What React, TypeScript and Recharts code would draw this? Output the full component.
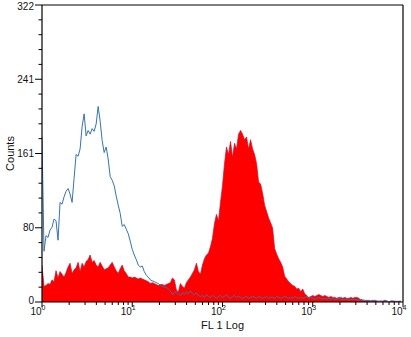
import React from "react";
import {
  ComposedChart,
  Area,
  Line,
  XAxis,
  YAxis,
  ReferenceLine,
} from "recharts";

// histogram counts, 45 channels per decade from 10^0 to 10^4
const STAINED_COUNTS = [
  40, 17, 18, 20, 19, 24, 22, 34, 26, 33,
  30, 27, 32, 38, 42, 31, 35, 37, 43, 33,
  42, 38, 44, 46, 51, 43, 45, 40, 38, 43,
  39, 35, 36, 37, 40, 43, 38, 34, 31, 36,
  40, 34, 31, 27, 27, 26, 27, 26, 25, 26,
  25, 24, 23, 22, 20, 21, 20, 19, 18, 19,
  19, 18, 19, 20, 21, 26, 24, 13, 11, 20,
  17, 15, 21, 24, 27, 31, 35, 42, 33, 30,
  40, 47, 51, 53, 60, 69, 85, 95, 88, 108,
  126, 150, 168, 160, 174, 157, 172, 166, 182, 186,
  182, 176, 179, 166, 176, 166, 160, 150, 130, 128,
  118, 105, 98, 91, 86, 80, 58, 52, 47, 43,
  38, 28, 25, 22, 20, 18, 17, 14, 15, 11,
  14, 9, 7, 5, 6, 7, 6, 7, 8, 7,
  6, 7, 6, 5, 6, 5, 5, 4, 5, 5,
  4, 5, 4, 4, 5, 4, 5, 5, 4, 2,
  2, 1, 2, 1, 1, 2, 1, 1, 0, 1,
  1, 2, 1, 0, 1, 1, 1, 0, 1, 1,
];

const CONTROL_COUNTS = [
  179, 55, 72, 70, 78, 81, 90, 88, 67, 108,
  106, 114, 120, 123, 117, 108, 134, 160, 158, 166,
  190, 204, 180, 186, 182, 188, 185, 193, 212, 196,
  175, 162, 168, 155, 136, 132, 126, 115, 105, 96,
  82, 84, 79, 74, 66, 57, 51, 46, 40, 38,
  39, 33, 29, 27, 24, 23, 22, 21, 20, 18,
  17, 16, 16, 14, 12, 8, 10, 11, 9, 7,
  10, 8, 11, 9, 12, 9, 8, 10, 7, 6,
  7, 5, 8, 6, 5, 7, 6, 4, 6, 7,
  5, 6, 8, 5, 4, 6, 7, 5, 6, 5,
  4, 5, 6, 4, 5, 6, 5, 4, 6, 5,
  4, 5, 6, 4, 5, 5, 4, 6, 5, 4,
  5, 6, 5, 4, 5, 4, 6, 5, 4, 5,
  4, 5, 6, 4, 5, 4, 3, 4, 5, 4,
  3, 4, 3, 4, 3, 4, 3, 3, 4, 3,
  2, 3, 3, 2, 3, 2, 3, 2, 2, 3,
  2, 2, 1, 2, 1, 1, 2, 1, 1, 1,
  0, 1, 1, 0, 1, 1, 0, 1, 0, 0,
];

const CHANNELS_PER_DECADE = 45;
const Y_MAX = 322;
const Y_MAJOR_STEPS = 4;
const Y_MINOR_PER_MAJOR = 5;
const DECADES = [0, 1, 2, 3];

const FONT = "'Liberation Sans', Arial, sans-serif";

const data = STAINED_COUNTS.map((v, i) => ({
  x: Math.pow(10, i / CHANNELS_PER_DECADE),
  stained: v,
  control: CONTROL_COUNTS[i],
}));

// log ticks 1..9 per decade, plus the last decade
const xTicks: number[] = [];
DECADES.forEach((d) => {
  for (let k = 1; k <= 9; k++) xTicks.push(k * Math.pow(10, d));
});
xTicks.push(Math.pow(10, DECADES.length));

const yTicks: number[] = [];
const yStep = Y_MAX / (Y_MAJOR_STEPS * Y_MINOR_PER_MAJOR);
for (let k = 0; k <= Y_MAJOR_STEPS * Y_MINOR_PER_MAJOR; k++) yTicks.push(k * yStep);

const XTick = ({ x, y, payload }: any) => {
  const v = payload.value;
  const exp = Math.log10(v);
  const major = Math.abs(exp - Math.round(exp)) < 1e-6;
  return (
    <g>
      <line x1={x} y1={y} x2={x} y2={y + (major ? 5 : 3)} stroke="#000" strokeWidth={1} />
      {major && (
        <>
          <text x={x - 0.5} y={y + 13.2} textAnchor="end" fontSize={10} fontFamily={FONT} fill="#111">
            10
          </text>
          <text x={x - 0.5} y={y + 8} textAnchor="start" fontSize={7} fontFamily={FONT} fill="#111">
            {Math.round(exp)}
          </text>
        </>
      )}
    </g>
  );
};

const YTick = ({ x, y, index }: any) => {
  const major = index % Y_MINOR_PER_MAJOR === 0;
  const last = index === yTicks.length - 1;
  // bottom label nudged up to clear the 10^0 label, top one down to stay inside
  const dy = index === 0 ? "0.2em" : last ? "0.45em" : "0.35em";
  return (
    <g>
      <line x1={x - (major ? 7 : 3.5)} y1={y} x2={x} y2={y} stroke="#000" strokeWidth={1} />
      {major && (
        <text x={x - 8} y={y} dy={dy} textAnchor="end" fontSize={10} fontFamily={FONT} fill="#111">
          {Math.floor(yTicks[index])}
        </text>
      )}
    </g>
  );
};

const CountsLabel = ({ viewBox }: any) => {
  const cx = viewBox.x + 13.5;
  const cy = viewBox.y + viewBox.height / 2;
  return (
    <text
      x={cx}
      y={cy}
      transform={`rotate(-90 ${cx} ${cy})`}
      textAnchor="middle"
      fontSize={11}
      fontFamily={FONT}
      fill="#111"
    >
      Counts
    </text>
  );
};

const XLabel = ({ viewBox }: any) => (
  <text
    x={viewBox.x + viewBox.width / 2}
    y={viewBox.y + 26.5}
    textAnchor="middle"
    fontSize={11}
    fontFamily={FONT}
    fill="#111"
  >
    FL 1 Log
  </text>
);

export default function App() {
  return (
    <div style={{ position: "absolute", left: 0, top: 0, width: 411, height: 337, background: "#fff" }}>
      <ComposedChart
        width={411}
        height={337}
        data={data}
        margin={{ top: 5, right: 8, bottom: 0, left: 0 }}
      >
        <XAxis
          dataKey="x"
          type="number"
          scale="log"
          domain={[1, 10000]}
          ticks={xTicks}
          interval={0}
          allowDataOverflow
          height={35}
          tickSize={0}
          tickMargin={0}
          tickLine={false}
          tick={<XTick />}
          axisLine={{ stroke: "#000", strokeWidth: 1.2 }}
          label={<XLabel />}
        />
        <YAxis
          type="number"
          domain={[0, Y_MAX]}
          ticks={yTicks}
          interval={0}
          allowDataOverflow
          width={42}
          tickSize={0}
          tickMargin={0}
          tickLine={false}
          tick={<YTick />}
          axisLine={{ stroke: "#000", strokeWidth: 1.2 }}
          label={<CountsLabel />}
        />
        <ReferenceLine y={Y_MAX} stroke="#000" strokeWidth={1.2} />
        <ReferenceLine x={10000} stroke="#000" strokeWidth={1.2} />
        <Area
          dataKey="stained"
          type="linear"
          fill="#ff0000"
          fillOpacity={1}
          stroke="#c8102e"
          strokeWidth={0.7}
          dot={false}
          activeDot={false}
          isAnimationActive={false}
        />
        <Line
          dataKey="control"
          type="linear"
          stroke="#3574ac"
          strokeWidth={1}
          dot={false}
          activeDot={false}
          isAnimationActive={false}
        />
      </ComposedChart>
    </div>
  );
}
